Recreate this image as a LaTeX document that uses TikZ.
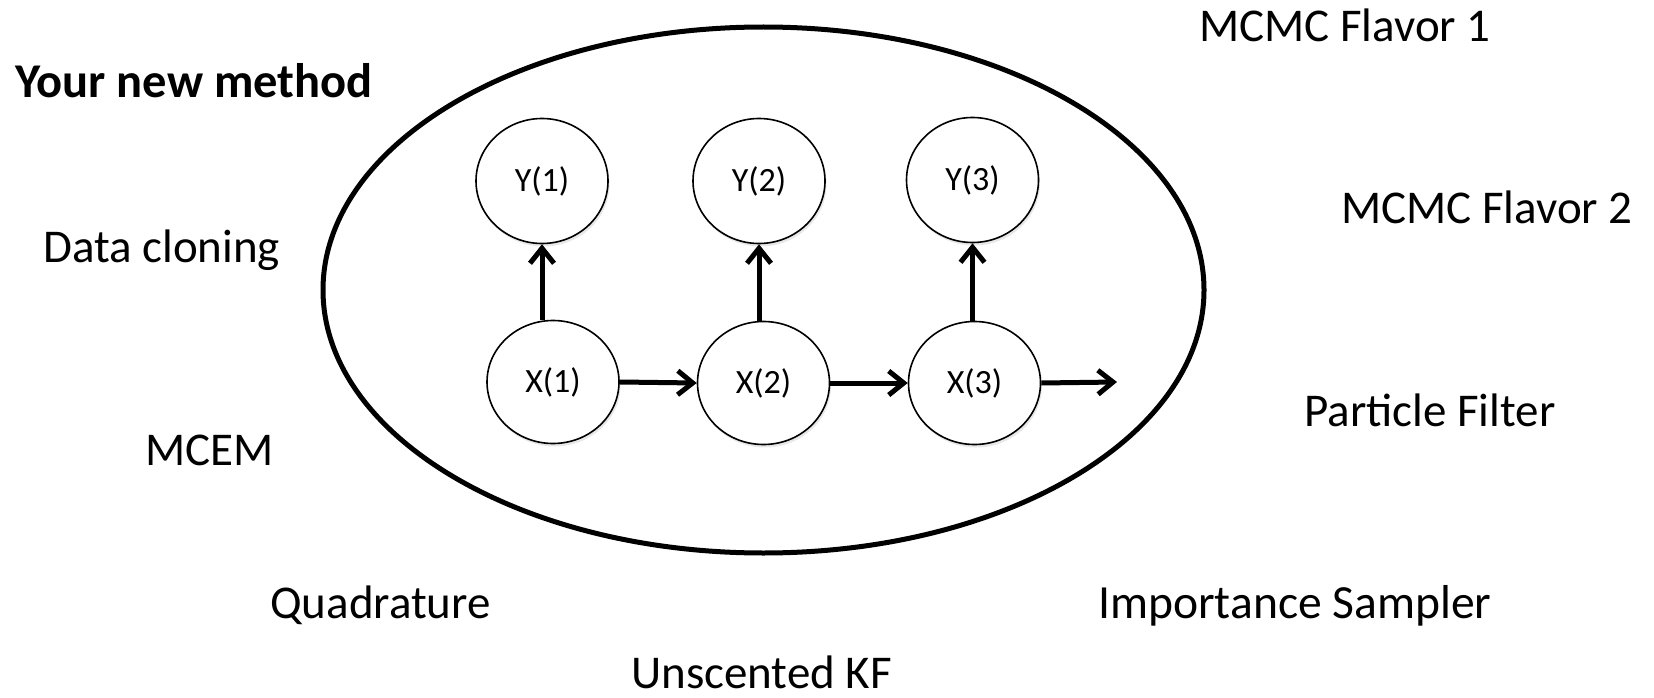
\documentclass[tikz,border=0pt]{standalone}
\usepackage{fontspec}
\setmainfont{Carlito}
\usetikzlibrary{shapes.geometric,arrows.meta,shadows}
\begin{document}
\begin{tikzpicture}[x=1pt,y=-1pt,
  lbl/.style={anchor=base west,inner sep=0pt,font=\fontsize{47}{50}\selectfont},
  var/.style={ellipse,draw,line width=1.6pt,fill=white,inner sep=0pt,
    minimum width=132pt,minimum height=125pt,font=\fontsize{34}{36}\selectfont,
    drop shadow={opacity=0.18,shadow xshift=1.5pt,shadow yshift=-3pt}},
  link/.style={line width=5pt,-{Straight Barb[length=15pt,width=24pt]}},
  frame/.style={ellipse,draw,line width=5pt,inner sep=0pt,minimum width=881pt,minimum height=526pt}]
\useasboundingbox (0,0) rectangle (1654,698);
\node[frame] (big) at (763.5,290) {};
% state and observation nodes
\node[var] (Y1) at (542,181) {Y(1)};
\node[var] (Y2) at (759,181) {Y(2)};
\node[var] (Y3) at (972.5,180) {Y(3)};
\node[var,minimum height=123pt] (X1) at (553,382) {X(1)};
\node[var,minimum height=123pt] (X2) at (763.5,383) {X(2)};
\node[var,minimum height=123pt] (X3) at (974.5,383) {X(3)};
\coordinate (Xend) at (1117,382);
% connectors
\draw[link] (Y1.south |- X1.north) -- (Y1.south);
\draw[link] (Y2.south |- X2.north) -- (Y2.south);
\draw[link] (Y3.south |- X3.north) -- (Y3.south);
\draw[link] (X1.east) -- (X2.west);
\draw[link] (X2.east) -- (X3.west);
\draw[link] (X3.east) -- (Xend);
% method labels
\node[lbl,font=\fontsize{48.5}{51}\selectfont\bfseries] (newm) at (15,98) {Your new method};
\node[lbl] (mcmc1) at (1199,42) {MCMC Flavor 1};
\node[lbl] (mcmc2) at (1341,223) {MCMC Flavor 2};
\node[lbl] (dc) at (43,262) {Data cloning};
\node[lbl] (mcem) at (145,465) {MCEM};
\node[lbl] (pf) at (1304,426) {Particle Filter};
\node[lbl] (quad) at (270,618) {Quadrature};
\node[lbl,font=\fontsize{47.6}{50}\selectfont] (is) at (1098,618) {Importance Sampler};
\node[lbl] (ukf) at (631,688) {Unscented KF};
\end{tikzpicture}
\end{document}
